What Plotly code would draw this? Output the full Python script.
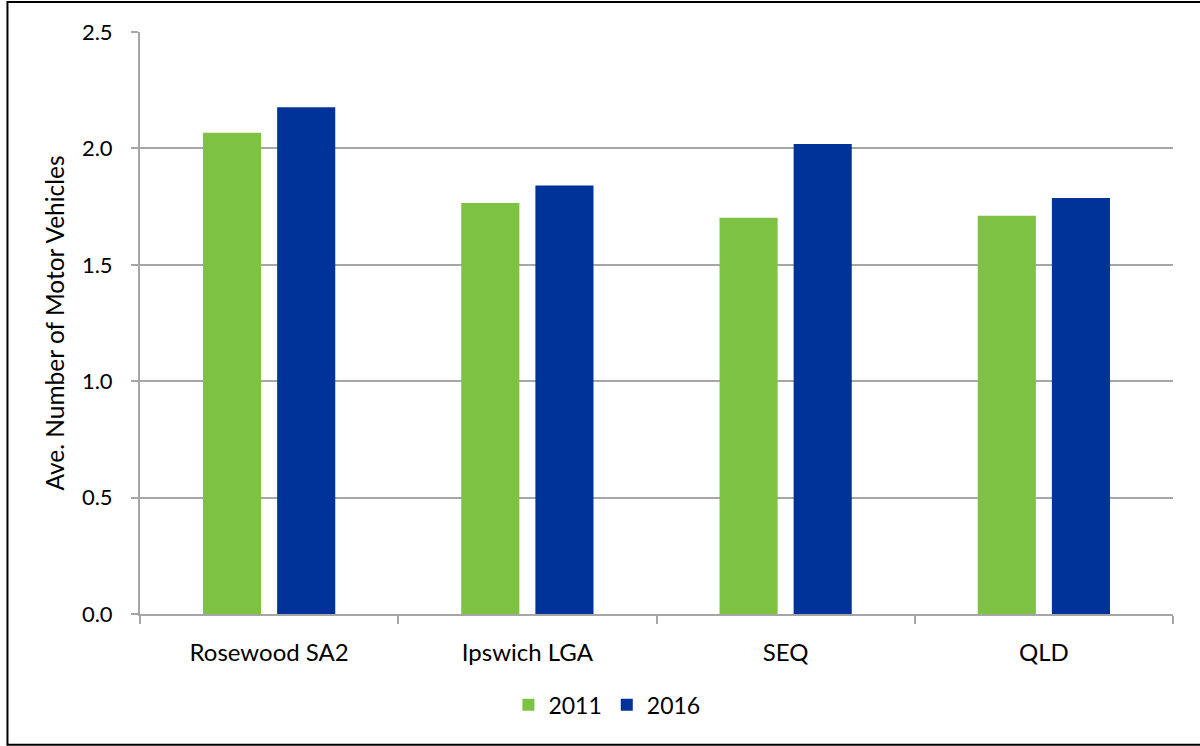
import plotly.graph_objects as go

# Average number of motor vehicles per dwelling, by region
regions = ["Rosewood SA2", "Ipswich LGA", "SEQ", "QLD"]
vehicles_2011 = [2.067, 1.765, 1.702, 1.711]
vehicles_2016 = [2.177, 1.841, 2.019, 1.787]
y_ticks = [0.0, 0.5, 1.0, 1.5, 2.0, 2.5]
y_tick_labels = ["0.0", "0.5", "1.0", "1.5", "2.0", "2.5"]

GREEN = "#7DC242"
BLUE = "#003399"
GRID = "#A6A6A6"
FONT = "Lato, Calibri, Carlito, sans-serif"

fig = go.Figure()
fig.add_trace(go.Bar(x=regions, y=vehicles_2011, name="2011",
                     marker=dict(color=GREEN, line=dict(width=0))))
fig.add_trace(go.Bar(x=regions, y=vehicles_2016, name="2016",
                     marker=dict(color=BLUE, line=dict(width=0))))

fig.update_layout(
    width=1200, height=746,
    margin=dict(l=140, r=27, t=32, b=132),
    paper_bgcolor="white", plot_bgcolor="white",
    font=dict(family=FONT, size=22, color="#000000"),
    barmode="group", bargap=0.426, bargroupgap=0.216,
    showlegend=True,
    legend=dict(orientation="h", x=0.452, xanchor="center",
                y=-0.156, yanchor="middle",
                font=dict(size=23), itemwidth=30,
                traceorder="normal"),
    xaxis=dict(showgrid=False, showline=True, linecolor=GRID, linewidth=2,
               ticks="outside", tickson="boundaries", ticklen=8,
               tickcolor=GRID, tickwidth=2, ticklabelstandoff=16,
               tickfont=dict(size=24)),
    yaxis=dict(range=[0, 2.5], tickvals=y_ticks, ticktext=y_tick_labels,
               showgrid=True, gridcolor=GRID, gridwidth=2,
               zeroline=False, showline=True, linecolor=GRID, linewidth=2,
               ticks="outside", ticklen=7, tickcolor=GRID, tickwidth=2,
               ticklabelstandoff=14,
               tickfont=dict(size=22),
               title=dict(text="Ave. Number of Motor Vehicles",
                          font=dict(size=24.5), standoff=10)),
    shapes=[dict(type="rect", xref="paper", yref="paper",
                 x0=-0.1283, x1=1.035, y0=-0.2245, y1=1.0515,
                 line=dict(color="#000000", width=2), layer="below")],
)

fig.write_html("out.html")
